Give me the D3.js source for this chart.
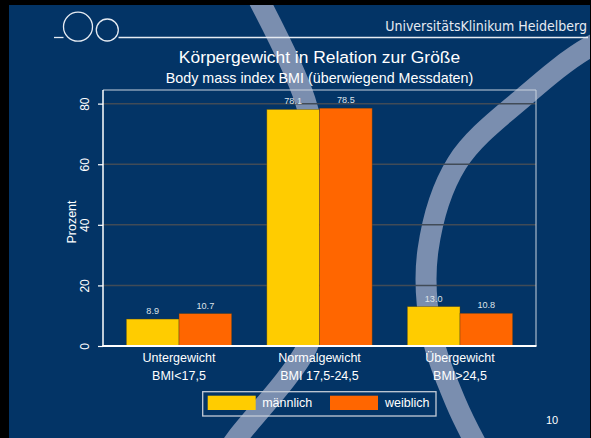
<!DOCTYPE html>
<html>
<head>
<meta charset="utf-8">
<script src="https://cdn.jsdelivr.net/npm/d3@7"></script>
<style>
  html, body { margin: 0; padding: 0; background: #000; }
  svg { display: block; }
</style>
</head>
<body>
<div id="chart"></div>
<script>
// data
const categories = ["Untergewicht", "Normalgewicht", "Übergewicht"];
const categoryRanges = ["BMI<17,5", "BMI 17,5-24,5", "BMI>24,5"];
const seriesNames = ["männlich", "weiblich"];
const maleValues = [8.9, 78.1, 13.0];
const femaleValues = [10.7, 78.5, 10.8];
const yTicks = [0, 20, 40, 60, 80];

const colors = { "männlich": "#ffcc00", "weiblich": "#ff6600" };
const W = 591, H = 438;
const margin = { top: 90, right: 55, bottom: 92, left: 103 };

const svg = d3.select("#chart").append("svg")
  .attr("width", W)
  .attr("height", H);

// slide background
svg.append("rect").attr("width", W).attr("height", H).attr("fill", "#033466");

// decorative swooshes behind the chart
const swoosh = d3.line().curve(d3.curveCatmullRom.alpha(0.5));
const swooshA = [[248, -20], [259, 0], [305, 100], [325, 200], [320, 290], [307, 347], [237, 438], [225, 455]];
const swooshB = [[660, 18], [591, 46], [525, 96], [457, 163], [428, 250], [431, 330], [456, 403], [482, 455]];
[swooshA, swooshB].forEach(pts => {
  svg.append("path")
    .attr("d", swoosh(pts))
    .attr("fill", "none")
    .attr("stroke", "#7a8eaf")
    .attr("stroke-width", 21);
});

// header: logo + name
const head = svg.append("g").attr("stroke", "#e6ebf2").attr("stroke-width", 1.3).attr("fill", "none");
head.append("line").attr("x1", 54).attr("x2", 63.5).attr("y1", 37.5).attr("y2", 37.5);
head.append("circle").attr("cx", 78).attr("cy", 26.7).attr("r", 14.5);
head.append("circle").attr("cx", 107.3).attr("cy", 30).attr("r", 11);
head.append("line").attr("x1", 118.5).attr("x2", 588).attr("y1", 37.5).attr("y2", 37.5);

svg.append("text")
  .attr("x", 587).attr("y", 31)
  .attr("text-anchor", "end")
  .attr("font-family", "'DejaVu Sans Condensed', 'DejaVu Sans', sans-serif")
  .attr("font-stretch", "condensed")
  .attr("font-size", 14)
  .attr("fill", "#e6ebf2")
  .text("UniversitätsKlinikum Heidelberg");

// titles
const cx = (margin.left + W - margin.right) / 2;
svg.append("text")
  .attr("x", cx).attr("y", 63)
  .attr("text-anchor", "middle")
  .attr("font-family", "'Liberation Sans', Arial, sans-serif")
  .attr("font-size", 17.4)
  .attr("fill", "#ffffff")
  .text("Körpergewicht in Relation zur Größe");
svg.append("text")
  .attr("x", cx).attr("y", 82.5)
  .attr("text-anchor", "middle")
  .attr("font-family", "'Liberation Sans', Arial, sans-serif")
  .attr("font-size", 14.3)
  .attr("fill", "#ffffff")
  .text("Body mass index BMI (überwiegend Messdaten)");

// scales
const x0 = d3.scaleBand()
  .domain(categories)
  .range([margin.left, W - margin.right])
  .paddingInner(0.25)
  .paddingOuter(0.166);
const x1 = d3.scaleBand()
  .domain(seriesNames)
  .range([0, x0.bandwidth()]);
const y = d3.scaleLinear()
  .domain([0, 84.5])
  .range([H - margin.bottom, margin.top]);

const rows = categories.map((c, i) => ({
  cat: c,
  values: [
    { key: "männlich", value: maleValues[i] },
    { key: "weiblich", value: femaleValues[i] }
  ]
}));

// gridlines
svg.append("g")
  .selectAll("line")
  .data(yTicks.filter(d => d > 0))
  .join("line")
    .attr("x1", margin.left).attr("x2", W - margin.right)
    .attr("y1", d => y(d)).attr("y2", d => y(d))
    .attr("stroke", "#414b57")
    .attr("stroke-width", 1.5);

// plot frame (top + right)
svg.append("path")
  .attr("d", `M${margin.left},${margin.top}H${W - margin.right}V${H - margin.bottom}`)
  .attr("fill", "none")
  .attr("stroke", "#c9d2de")
  .attr("stroke-width", 1);

// bars
const groups = svg.append("g")
  .selectAll("g")
  .data(rows)
  .join("g")
    .attr("transform", d => `translate(${x0(d.cat)},0)`);

groups.selectAll("rect")
  .data(d => d.values)
  .join("rect")
    .attr("x", d => x1(d.key))
    .attr("y", d => y(d.value))
    .attr("width", x1.bandwidth())
    .attr("height", d => y(0) - y(d.value))
    .attr("fill", d => colors[d.key])
    .attr("stroke", "rgba(70,60,30,0.55)")
    .attr("stroke-width", 0.7);

groups.selectAll("text")
  .data(d => d.values)
  .join("text")
    .attr("x", d => x1(d.key) + x1.bandwidth() / 2)
    .attr("y", d => y(d.value) - 5)
    .attr("text-anchor", "middle")
    .attr("font-family", "'Liberation Sans', Arial, sans-serif")
    .attr("font-size", 9.1)
    .attr("fill", "#dde3ea")
    .text(d => d3.format(".1f")(d.value));

// y axis
const yAxis = svg.append("g")
  .attr("transform", `translate(${margin.left},0)`)
  .call(d3.axisLeft(y).tickValues(yTicks).tickSize(5).tickFormat(d3.format("d")));
yAxis.select(".domain").remove();
yAxis.selectAll(".tick line").attr("stroke", "#ffffff").attr("stroke-width", 1.2);
yAxis.selectAll(".tick text")
  .attr("transform", "rotate(-90)")
  .attr("x", 0).attr("y", -14)
  .attr("dy", 0)
  .attr("text-anchor", "middle")
  .attr("font-family", "'Liberation Sans', Arial, sans-serif")
  .attr("font-size", 12)
  .attr("fill", "#ffffff");

svg.append("line")
  .attr("x1", margin.left).attr("x2", margin.left)
  .attr("y1", margin.top).attr("y2", y(0))
  .attr("stroke", "#ffffff").attr("stroke-width", 1.5);
svg.append("line")
  .attr("x1", margin.left - 0.75).attr("x2", W - margin.right + 0.5)
  .attr("y1", y(0)).attr("y2", y(0))
  .attr("stroke", "#ffffff").attr("stroke-width", 2);

svg.append("text")
  .attr("transform", `translate(76,222) rotate(-90)`)
  .attr("text-anchor", "middle")
  .attr("font-family", "'Liberation Sans', Arial, sans-serif")
  .attr("font-size", 12.5)
  .attr("fill", "#ffffff")
  .text("Prozent");

// category labels, two lines
const xl = svg.append("g")
  .attr("font-family", "'Liberation Sans', Arial, sans-serif")
  .attr("font-size", 12.5)
  .attr("fill", "#ffffff")
  .attr("text-anchor", "middle");
xl.selectAll(".l1")
  .data(categories)
  .join("text")
    .attr("class", "l1")
    .attr("x", d => x0(d) + x0.bandwidth() / 2)
    .attr("y", 362)
    .text(d => d);
xl.selectAll(".l2")
  .data(categoryRanges)
  .join("text")
    .attr("class", "l2")
    .attr("x", (d, i) => x0(categories[i]) + x0.bandwidth() / 2)
    .attr("y", 379.5)
    .text(d => d);

// legend
const lg = svg.append("g");
lg.append("rect")
  .attr("x", 202.7).attr("y", 391.7)
  .attr("width", 233.3).attr("height", 24.3)
  .attr("fill", "none")
  .attr("stroke", "#c3cbd7")
  .attr("stroke-width", 1.3);
const items = lg.selectAll("g")
  .data(seriesNames)
  .join("g")
    .attr("transform", (d, i) => `translate(${207.7 + i * 122.3},395.7)`);
items.append("rect")
  .attr("width", 48).attr("height", 14.3)
  .attr("fill", d => colors[d]);
items.append("text")
  .attr("x", d => d === "männlich" ? 54.5 : 55)
  .attr("y", 11.8)
  .attr("font-family", "'Liberation Sans', Arial, sans-serif")
  .attr("font-size", 12.5)
  .attr("fill", "#ffffff")
  .text(d => d);

// page number
svg.append("text")
  .attr("x", 552).attr("y", 424)
  .attr("text-anchor", "middle")
  .attr("font-family", "'Liberation Sans', Arial, sans-serif")
  .attr("font-size", 11)
  .attr("fill", "#ffffff")
  .text("10");

// black edges of the slide screenshot
svg.append("rect").attr("x", 0).attr("y", 0).attr("width", W).attr("height", 5).attr("fill", "#000");
svg.append("rect").attr("x", 0).attr("y", 0).attr("width", 9).attr("height", H).attr("fill", "#000");
svg.append("rect").attr("x", 590).attr("y", 0).attr("width", 1).attr("height", H).attr("fill", "#000");
</script>
</body>
</html>
